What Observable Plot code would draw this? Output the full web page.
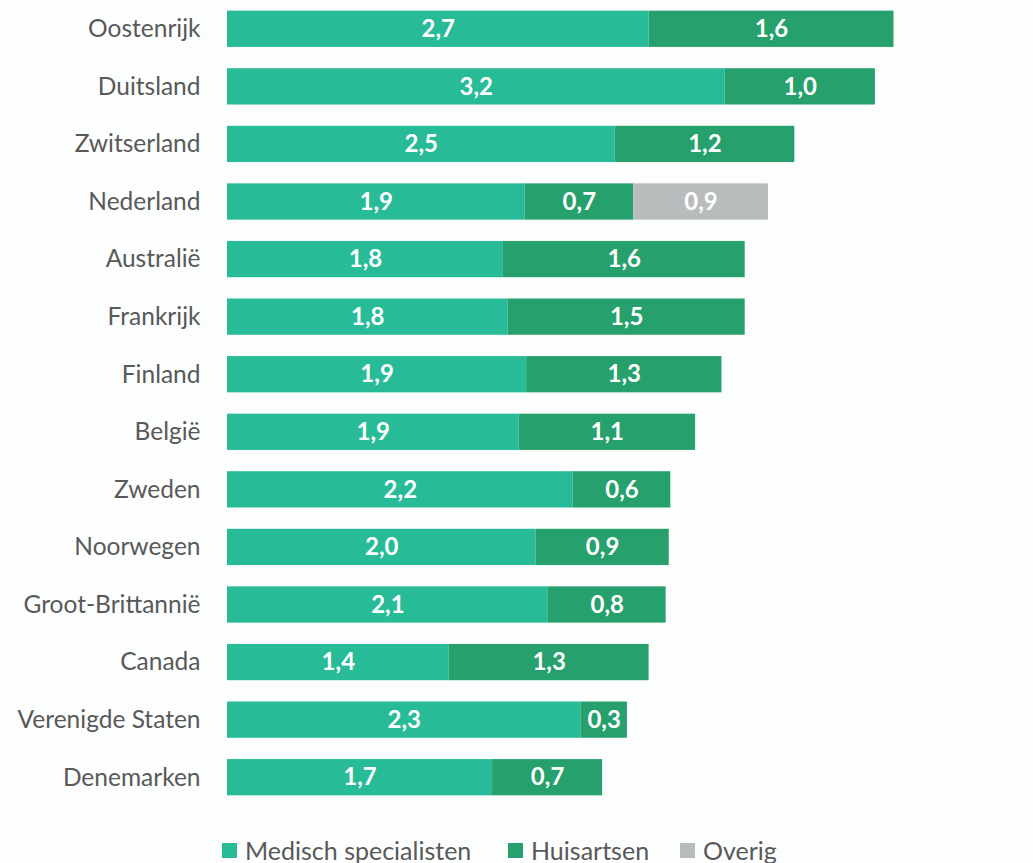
<!DOCTYPE html>
<html><head><meta charset="utf-8">
<script src="https://cdn.jsdelivr.net/npm/d3@7"></script>
<script src="https://cdn.jsdelivr.net/npm/@observablehq/plot@0.6"></script>
<style>
body{margin:0;background:#fcfdfd;font-family:Lato,sans-serif;}
#legend{position:relative;height:57px;font-size:25px;color:#595959;}
.item{position:absolute;top:29px;display:flex;align-items:center;line-height:30px;}
.sw{width:15px;height:15px;margin-right:8px;}
</style></head><body>
<div id="chart"></div>
<div id="legend"></div>
<script>
const countries = ["Oostenrijk","Duitsland","Zwitserland","Nederland","Australië","Frankrijk","Finland","België","Zweden","Noorwegen","Groot-Brittannië","Canada","Verenigde Staten","Denemarken"];
const medisch = [2.72,3.21,2.50,1.92,1.78,1.81,1.93,1.88,2.23,1.99,2.07,1.43,2.28,1.71];
const huisartsen = [1.58,0.97,1.16,0.70,1.56,1.53,1.26,1.14,0.63,0.86,0.76,1.29,0.30,0.71];
const overig = [0,0,0,0.87,0,0,0,0,0,0,0,0,0,0];
const types = ["Medisch specialisten","Huisartsen","Overig"];
const colors = ["#27bb98","#26a06c","#b8bcbc"];
const series = [medisch, huisartsen, overig];

const data = [];
countries.forEach((c,i)=>types.forEach((t,j)=>{ if(series[j][i]>0) data.push({country:c,type:t,value:series[j][i]}); }));

const fmt = v => v.toFixed(1).replace(".", ",");

const plot = Plot.plot({
  width: 1033, height: 806,
  marginLeft: 227, marginRight: 31, marginTop: 0, marginBottom: 0,
  style: {background: "transparent", fontFamily: "Lato, sans-serif"},
  x: {domain: [0,5], axis: null},
  y: {domain: countries, paddingInner: 0.37, paddingOuter: 0.185, round: false, label: null},
  color: {domain: types, range: colors},
  marks: [
    Plot.barX(data, Plot.stackX({x: "value", y: "country", fill: "type", order: types})),
    Plot.text(data, Plot.stackX({x: "value", y: "country", z: "type", order: types, text: d => fmt(d.value), fill: "white", fontWeight: "bold", fontSize: 24})),
    Plot.axisY({tickSize: 0, tickPadding: 27, fontSize: 24.5, label: null})
  ]
});
plot.querySelectorAll("g[aria-label='y-axis tick label']").forEach(g=>g.setAttribute("fill","#595959"));
document.getElementById("chart").appendChild(plot);

const legend = document.getElementById("legend");
const lefts = [222, 508, 680];
types.forEach((t,j)=>{
  const d = document.createElement("div"); d.className="item"; d.style.left = lefts[j]+"px";
  d.innerHTML = `<div class="sw" style="background:${colors[j]}"></div><span>${t}</span>`;
  legend.appendChild(d);
});
</script></body></html>
